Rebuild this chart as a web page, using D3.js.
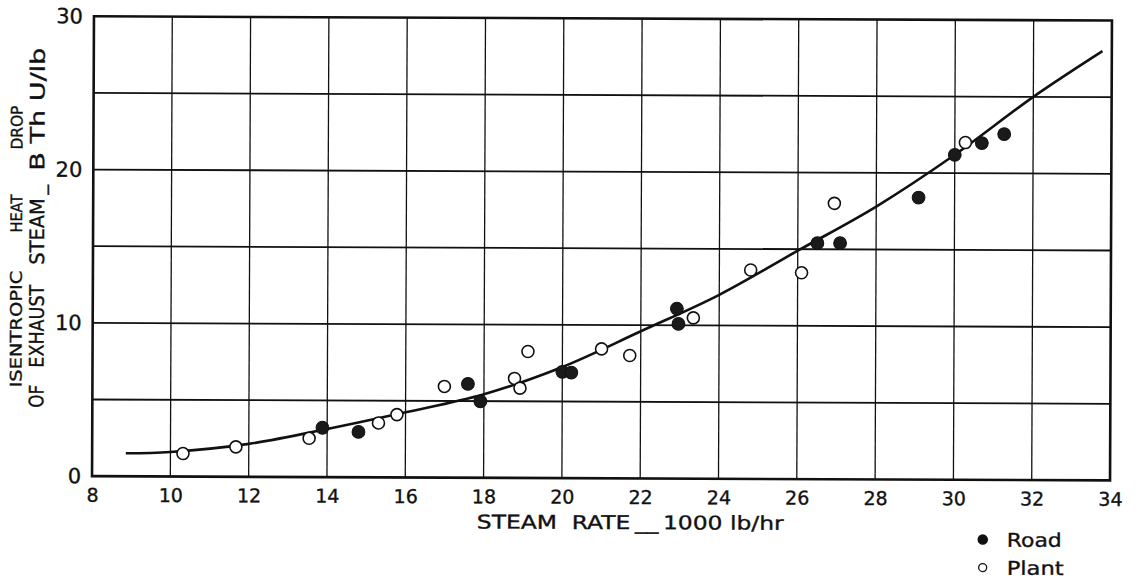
<!DOCTYPE html>
<html>
<head>
<meta charset="utf-8">
<script src="https://cdn.jsdelivr.net/npm/d3@7"></script>
<style>
  html, body { margin: 0; padding: 0; background: #fff; }
  svg { display: block; }
  text { font-family: "DejaVu Sans", "Liberation Sans", sans-serif; fill: #111; stroke: #111; stroke-width: 0.35; }
</style>
</head>
<body>
<svg id="chart" width="1137" height="580"></svg>
<script>
// ---- data ----
const xTicks = [8, 10, 12, 14, 16, 18, 20, 22, 24, 26, 28, 30, 32, 34];
const xGrid = [10, 12, 14, 16, 18, 20, 22, 24, 26, 28, 30, 32];
const yTicks = [0, 10, 20, 30];
const yGrid = [5, 10, 15, 20, 25];

// Road (filled) points: steam rate (1000 lb/hr), heat drop (BThU/lb)
const roadX = [13.88, 14.80, 17.59, 17.91, 20.00, 20.23, 22.92, 22.96, 26.50, 27.08, 29.08, 30.00, 30.69, 31.26];
const roadY = [3.22, 2.96, 6.12, 4.99, 6.93, 6.88, 11.08, 10.09, 15.40, 15.40, 18.40, 21.20, 21.97, 22.56];

// Plant (open) points
const plantX = [10.32, 11.67, 13.54, 15.31, 15.78, 16.99, 18.78, 18.92, 19.12, 21.00, 21.72, 23.34, 24.80, 26.10, 26.93, 30.27];
const plantY = [1.50, 1.95, 2.53, 3.55, 4.10, 5.95, 6.49, 5.86, 8.25, 8.44, 8.02, 10.49, 13.63, 13.46, 18.00, 22.00];

// fitted curve
const curveX = [8.86, 10, 12, 14, 16, 18, 20, 22, 24, 26, 28, 30, 32, 33.76];
const curveY = [1.50, 1.60, 2.15, 3.14, 4.25, 5.45, 7.25, 9.60, 12.00, 14.90, 17.80, 21.20, 25.00, 28.00];

const xTitle = "STEAM  RATE\u2009__\u20091000 lb/hr";
const yTitle1 = ["ISENTROPIC", "HEAT", "DROP"];
const yTitle2 = ["OF", "EXHAUST", "STEAM\u2009_", "B Th U/lb"];
const legendLabels = ["Road", "Plant"];

// ---- drawing ----
const svg = d3.select("#chart");
const root = svg.append("g").attr("transform", "rotate(0.24, 602, 248)");

const x = d3.scaleLinear().domain([8, 34]).range([93, 1111]);
const y = d3.scaleLinear().domain([0, 30]).range([478.3, 18.4]);

// place a text so its natural advance is scaled to a target length
function fitText(sel, tx, ty, rot, target) {
  const nat = sel.node().getComputedTextLength();
  const s = target / nat;
  sel.attr("transform", `translate(${tx},${ty}) rotate(${rot}) scale(${s},1)`);
}

// grid
root.append("g").selectAll("line").data(xGrid).join("line")
  .attr("x1", d => x(d)).attr("x2", d => x(d))
  .attr("y1", y(0)).attr("y2", y(30))
  .attr("stroke", "#111").attr("stroke-width", 1.3);
root.append("g").selectAll("line").data(yGrid).join("line")
  .attr("x1", x(8)).attr("x2", x(34))
  .attr("y1", d => y(d)).attr("y2", d => y(d))
  .attr("stroke", "#111").attr("stroke-width", 1.8);

// frame
root.append("rect")
  .attr("x", x(8)).attr("y", y(30))
  .attr("width", x(34) - x(8)).attr("height", y(0) - y(30))
  .attr("fill", "none").attr("stroke", "#111").attr("stroke-width", 2.6);

// axes (labels only, via d3 axis generators)
const xAxis = d3.axisBottom(x).tickValues(xTicks).tickSize(0).tickPadding(10).tickFormat(d3.format("d"));
const gx = root.append("g").attr("transform", `translate(0,${y(0) + 2})`).call(xAxis);
gx.select(".domain").remove();
gx.selectAll("text").attr("font-size", 19).attr("font-family", "DejaVu Sans").attr("fill", "#111");

const yAxis = d3.axisLeft(y).tickValues(yTicks).tickSize(0).tickPadding(11).tickFormat(d3.format("d"));
const gy = root.append("g").attr("transform", `translate(${x(8)},0)`).call(yAxis);
gy.select(".domain").remove();
gy.selectAll("text").attr("font-size", 21).attr("font-family", "DejaVu Sans").attr("fill", "#111");

// curve
const curvePts = curveX.map((v, i) => [v, curveY[i]]);
root.append("path")
  .datum(curvePts)
  .attr("d", d3.line().x(d => x(d[0])).y(d => y(d[1])).curve(d3.curveCatmullRom.alpha(0.5)))
  .attr("fill", "none").attr("stroke", "#111").attr("stroke-width", 2.6);

// points
const plantPts = plantX.map((v, i) => [v, plantY[i]]);
const roadPts = roadX.map((v, i) => [v, roadY[i]]);
root.append("g").selectAll("circle").data(plantPts).join("circle")
  .attr("cx", d => x(d[0])).attr("cy", d => y(d[1])).attr("r", 6)
  .attr("fill", "#fff").attr("stroke", "#111").attr("stroke-width", 1.6);
root.append("g").selectAll("circle").data(roadPts).join("circle")
  .attr("cx", d => x(d[0])).attr("cy", d => y(d[1])).attr("r", 6.4)
  .attr("fill", "#1a1a1a").attr("stroke", "#111").attr("stroke-width", 1);

// x title
const xt = root.append("text")
  .attr("font-size", 19)
  .attr("xml:space", "preserve")
  .style("white-space", "pre")
  .text(xTitle);
fitText(xt, 478, 529, 0, 307);

// y title, two rotated lines, words placed along the axis
const line1Pos = [[390, 117], [235, 38], [152, 44]];
const line2Pos = [[410, 23], [370, 83], [267, 80], [173, 123]];
const yt = root.append("g");
yTitle1.forEach((w, i) => {
  const t = yt.append("text").attr("font-size", 16).text(w);
  fitText(t, 22, line1Pos[i][0], -90, line1Pos[i][1]);
});
yTitle2.forEach((w, i) => {
  const t = yt.append("text").attr("font-size", 20).text(w);
  fitText(t, 44, line2Pos[i][0], -90, line2Pos[i][1]);
});

// legend
const legTargets = [55, 57];
const leg = root.append("g").attr("transform", "translate(984,538)");
legendLabels.forEach((lab, i) => {
  const g = leg.append("g").attr("transform", `translate(0,${i * 28})`);
  g.append("circle").attr("r", i === 0 ? 4.6 : 4)
    .attr("fill", i === 0 ? "#111" : "#fff").attr("stroke", "#111").attr("stroke-width", 1.3);
  const t = g.append("text").attr("font-size", 19).text(lab);
  fitText(t, 24, 7, 0, legTargets[i]);
});
</script>
</body>
</html>
